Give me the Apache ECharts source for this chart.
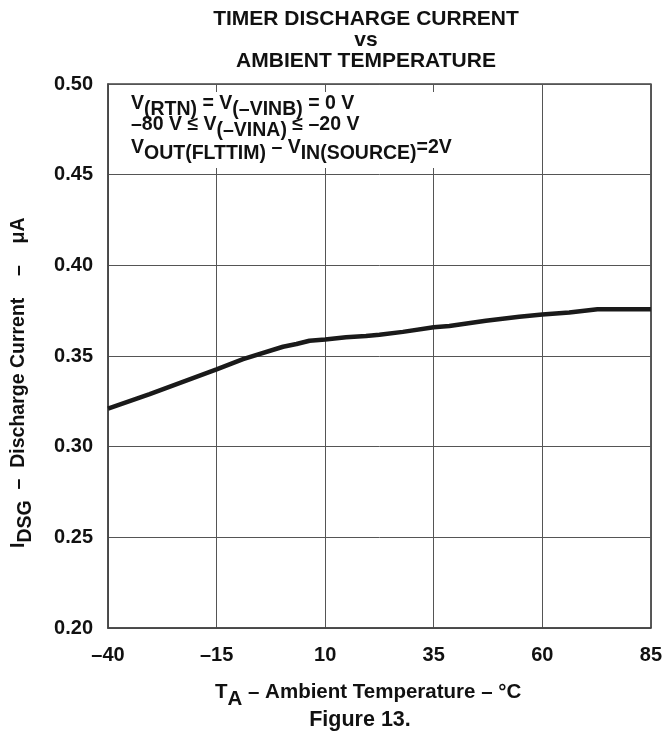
<!DOCTYPE html>
<html>
<head>
<meta charset="utf-8">
<script src="https://cdn.jsdelivr.net/npm/echarts@6/dist/echarts.min.js"></script>
<style>
html,body{margin:0;padding:0;background:#fff;}
#chart{width:665px;height:738px;}
</style>
</head>
<body>
<div id="chart"></div>
<script>
// ---- data ----
const temperatureC = [-40, -30.4, -15, -8.9, 0.3, 3.4, 6.4, 10, 14.8, 19.4, 22.5, 27.9, 35, 38.6, 47, 54.7, 60, 66.2, 72.7, 85];
const dischargeCurrentUA = [0.321, 0.329, 0.3426, 0.3483, 0.3551, 0.3566, 0.3584, 0.3591, 0.3603, 0.361, 0.3617, 0.3633, 0.3658, 0.3665, 0.3694, 0.3716, 0.3729, 0.374, 0.3758, 0.3758];
const xTickValues = [-40, -15, 10, 35, 60, 85];
const yTickValues = [0.20, 0.25, 0.30, 0.35, 0.40, 0.45, 0.50];
const titleLines = ['TIMER DISCHARGE CURRENT', 'vs', 'AMBIENT TEMPERATURE'];
const figureLabel = 'Figure 13.';

const FONT = '"Liberation Sans", Arial, Helvetica, sans-serif';
const chart = echarts.init(document.getElementById('chart'));

const pairs = temperatureC.map((t, i) => [t, dischargeCurrentUA[i]]);
const dash = v => (v < 0 ? '\u2013' + Math.abs(v) : String(v));

function richLine(fs, shift) {
  return {
    n: {fontSize: fs, fontWeight: 'bold', fontFamily: FONT, fill: '#111', lineHeight: fs},
    s: {fontSize: fs, fontWeight: 'bold', fontFamily: FONT, fill: '#111', lineHeight: fs, padding: [shift * 2, 0, 0, 0]}
  };
}

const option = {
  animation: false,
  backgroundColor: '#fff',
  grid: {left: 108, right: 13, top: 84, bottom: 110, show: true, borderColor: '#444', borderWidth: 1.5, backgroundColor: 'transparent'},
  xAxis: {
    type: 'value', min: xTickValues[0], max: xTickValues[xTickValues.length - 1], interval: 25,
    axisLine: {show: true, onZero: false, lineStyle: {color: '#444', width: 1.5}},
    axisTick: {show: false},
    splitLine: {show: true, lineStyle: {color: '#555', width: 1}},
    axisLabel: {margin: 17, color: '#111', fontSize: 20, fontWeight: 'bold', fontFamily: FONT, formatter: dash}
  },
  yAxis: {
    type: 'value', min: yTickValues[0], max: yTickValues[yTickValues.length - 1], interval: 0.05,
    axisLine: {show: true, onZero: false, lineStyle: {color: '#444', width: 1.5}},
    axisTick: {show: false},
    splitLine: {show: true, lineStyle: {color: '#555', width: 1}},
    axisLabel: {margin: 15, color: '#111', fontSize: 20, fontWeight: 'bold', fontFamily: FONT, formatter: v => v.toFixed(2)}
  },
  series: [{
    type: 'line', data: pairs, showSymbol: false, smooth: false,
    lineStyle: {color: '#1a1a1a', width: 4.5}, z: 3
  }],
  graphic: [
    {type: 'rect', z: 50, shape: {x: 110, y: 92, width: 385, height: 76}, style: {fill: '#fff'}},
    {type: 'text', z: 60, x: 366, y: 8.5, style: {
      text: titleLines.join('\n'), font: 'bold 21px ' + FONT, fill: '#111',
      textAlign: 'center', textVerticalAlign: 'top', lineHeight: 21}},
    {type: 'text', z: 60, x: 131, y: 104, style: {
      text: '{n|V}{s|(RTN)}{n| = V}{s|(\u2013VINB)}{n| = 0 V}', rich: richLine(19.5, 6),
      textAlign: 'left', textVerticalAlign: 'middle'}},
    {type: 'text', z: 60, x: 131, y: 125, style: {
      text: '{n|\u201380 V \u2264 V}{s|(\u2013VINA)}{n| \u2264 \u201320 V}', rich: richLine(19.5, 6),
      textAlign: 'left', textVerticalAlign: 'middle'}},
    {type: 'text', z: 60, x: 131, y: 148, style: {
      text: '{n|V}{s|OUT(FLTTIM)}{n| \u2013 V}{s|IN(SOURCE)}{n|=2V}', rich: richLine(19.5, 6),
      textAlign: 'left', textVerticalAlign: 'middle'}},
    {type: 'text', z: 60, x: 18.5, y: 548, rotation: Math.PI / 2, style: {
      text: '{n|I}{s|DSG}{n|  \u2013  Discharge Current    \u2013    \u03bcA}', rich: richLine(19.5, 7),
      textAlign: 'left', textVerticalAlign: 'middle'}},
    {type: 'text', z: 60, x: 215, y: 692, style: {
      text: '{n|T}{s|A}{n| \u2013 Ambient Temperature \u2013 \u00b0C}', rich: richLine(20.5, 7),
      textAlign: 'left', textVerticalAlign: 'middle'}},
    {type: 'text', z: 60, x: 360, y: 720.5, style: {
      text: figureLabel, font: 'bold 21.5px ' + FONT, fill: '#111',
      textAlign: 'center', textVerticalAlign: 'middle'}}
  ]
};
chart.setOption(option);
</script>
</body>
</html>
